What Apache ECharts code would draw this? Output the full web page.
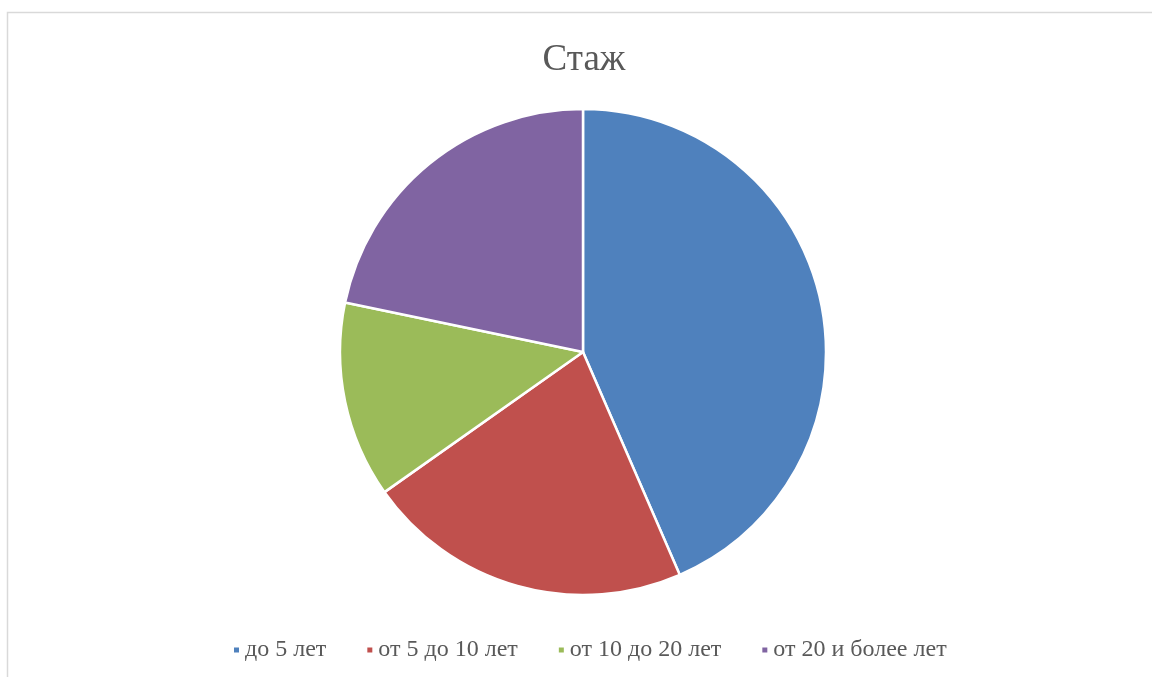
<!DOCTYPE html>
<html>
<head>
<meta charset="utf-8">
<script src="https://cdn.jsdelivr.net/npm/echarts@6/dist/echarts.min.js"></script>
<style>
  html, body { margin: 0; padding: 0; background: #fff; }
  #chart { width: 1152px; height: 677px; }
</style>
</head>
<body>
<div id="chart"></div>
<script>
// данные
var categories = ['до 5 лет', 'от 5 до 10 лет', 'от 10 до 20 лет', 'от 20 и более лет'];
var values = [20, 10, 6, 10];
var colors = ['#4F81BD', '#C0504D', '#9BBB59', '#8064A2'];

var pieData = [];
for (var i = 0; i < categories.length; i++) {
  pieData.push({ name: categories[i], value: values[i] });
}

var myChart = echarts.init(document.getElementById('chart'));

var option = {
  backgroundColor: '#fff',
  color: colors,
  animation: false,
  title: {
    text: 'Стаж',
    left: 579,
    top: 37,
    textAlign: 'center',
    textStyle: {
      fontFamily: 'Liberation Serif',
      fontWeight: 'normal',
      fontSize: 37,
      color: '#595959'
    }
  },
  graphic: [{
    type: 'rect',
    shape: { x: 7.5, y: 12.5, width: 1200, height: 700 },
    style: { fill: 'none', stroke: '#d9d9d9', lineWidth: 1.5 },
    silent: true
  }],
  legend: {
    left: 227,
    top: 633,
    icon: 'rect',
    itemWidth: 7,
    itemHeight: 7,
    itemGap: 39,
    data: categories,
    textStyle: {
      fontFamily: 'Liberation Serif',
      fontSize: 24,
      color: '#595959'
    }
  },
  series: [{
    type: 'pie',
    center: [583, 352],
    radius: 243,
    startAngle: 90,
    clockwise: true,
    label: { show: false },
    labelLine: { show: false },
    itemStyle: { borderColor: '#fff', borderWidth: 2.5 },
    emphasis: { disabled: true },
    data: pieData
  }]
};

myChart.setOption(option);
</script>
</body>
</html>
